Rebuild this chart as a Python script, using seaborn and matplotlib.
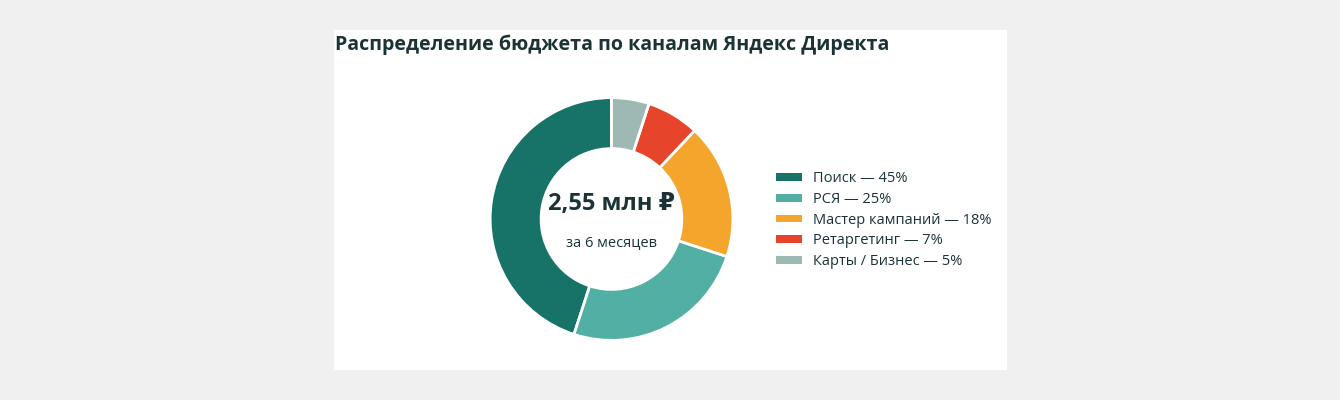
import matplotlib
matplotlib.use("Agg")
import matplotlib.pyplot as plt
import seaborn as sns
from matplotlib.patches import Patch, Rectangle

## data
channels = ["Поиск", "РСЯ", "Мастер кампаний", "Ретаргетинг", "Карты / Бизнес"]
shares = [45, 25, 18, 7, 5]
colors = ["#177367", "#52afa4", "#f3a52c", "#e6452c", "#9eb9b3"]
title = "Распределение бюджета по каналам Яндекс Директа"
total_label = "2,55 млн ₽"
period_label = "за 6 месяцев"

sns.set_theme(style="white")
plt.rcParams['font.family'] = ['Open Sans', 'DejaVu Sans']
text_color = "#1c3336"

W, H = 1340, 400
fig = plt.figure(figsize=(W / 100, H / 100), dpi=100)
fig.patch.set_facecolor("#f0f0f0")

## white card
fig.patches.append(Rectangle((334 / W, 30 / H), 673 / W, 340 / H,
                             transform=fig.transFigure, facecolor="white",
                             edgecolor="none", zorder=-10))

fig.text(335 / W, (H - 45) / H, title, fontsize=14.1, fontweight="bold",
         color=text_color, ha="left", va="center")

## donut
cx, cy, box = 611.5, 219, 250
ax = fig.add_axes([(cx - box / 2) / W, (H - cy - box / 2) / H, box / W, box / H])
ax.set_facecolor("none")
ax.pie(shares, colors=colors, startangle=90, counterclock=True,
       wedgeprops=dict(width=0.42, edgecolor="white", linewidth=2))
ax.set_xlim(-1.03, 1.03)
ax.set_ylim(-1.03, 1.03)
ax.set_aspect("equal")
ax.axis("off")

ax.text(0, 0.125, total_label, ha="center", va="center", fontsize=17,
        fontweight="bold", color=text_color)
ax.text(0, -0.19, period_label, ha="center", va="center", fontsize=10.5,
        color=text_color)

## legend
handles = [Patch(facecolor=c, edgecolor="none") for c in colors]
labels = [f"{n} — {s}%" for n, s in zip(channels, shares)]
fig.legend(handles, labels, loc="upper left",
           bbox_to_anchor=(776 / W, (H - 171) / H), frameon=False,
           fontsize=10.5, handlelength=1.75, handleheight=0.45,
           handletextpad=0.8, labelspacing=0.4, borderpad=0, borderaxespad=0,
           labelcolor=text_color)

plt.savefig("out.png", dpi=100, facecolor=fig.get_facecolor())
